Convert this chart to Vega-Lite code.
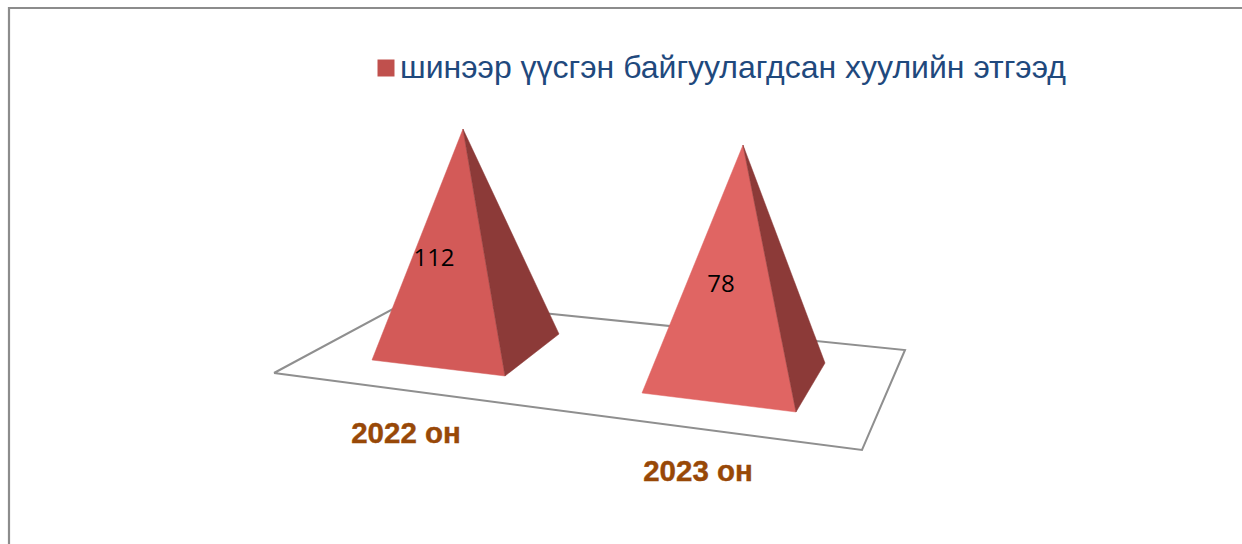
{"$schema":"https://vega.github.io/schema/vega-lite/v6.json","width":1242,"height":544,"padding":0,"autosize":{"type":"none"},"background":"white","config":{"view":{"stroke":null}},"datasets":{"shapes":[
{"shape":"frame","i":0,"x":1242,"y":8},{"shape":"frame","i":1,"x":9,"y":8},{"shape":"frame","i":2,"x":9,"y":544},
{"shape":"floor","i":0,"x":274,"y":373},{"shape":"floor","i":1,"x":410.5,"y":299.6},{"shape":"floor","i":2,"x":905,"y":350},{"shape":"floor","i":3,"x":862,"y":450},{"shape":"floor","i":4,"x":274,"y":373},
{"shape":"front2022","i":0,"x":372,"y":360},{"shape":"front2022","i":1,"x":505,"y":376},{"shape":"front2022","i":2,"x":463,"y":129},{"shape":"front2022","i":3,"x":372,"y":360},
{"shape":"side2022","i":0,"x":505,"y":376},{"shape":"side2022","i":1,"x":559,"y":334},{"shape":"side2022","i":2,"x":463,"y":129},{"shape":"side2022","i":3,"x":505,"y":376},
{"shape":"front2023","i":0,"x":642,"y":393},{"shape":"front2023","i":1,"x":796,"y":412},{"shape":"front2023","i":2,"x":743,"y":145},{"shape":"front2023","i":3,"x":642,"y":393},
{"shape":"side2023","i":0,"x":796,"y":412},{"shape":"side2023","i":1,"x":825,"y":363},{"shape":"side2023","i":2,"x":743,"y":145},{"shape":"side2023","i":3,"x":796,"y":412}
],"labels":[
{"year":"2022 он","value":112,"series":"шинээр үүсгэн байгуулагдсан хуулийн этгээд","vx":434,"vy":259,"yx":406,"yy":434},
{"year":"2023 он","value":78,"series":"шинээр үүсгэн байгуулагдсан хуулийн этгээд","vx":721,"vy":285,"yx":698,"yy":472}
]},
"encoding":{"x":{"type":"quantitative","scale":{"domain":[0,1242]},"axis":null},"y":{"type":"quantitative","scale":{"domain":[544,0]},"axis":null}},
"layer":[
{"data":{"name":"shapes"},"transform":[{"filter":"datum.shape=='frame'"}],"mark":{"type":"line","stroke":"#8c8c8c","strokeWidth":2.2,"clip":false},"encoding":{"x":{"field":"x","type":"quantitative","scale":{"domain":[0,1242]},"axis":null},"y":{"field":"y","type":"quantitative","scale":{"domain":[544,0]},"axis":null},"order":{"field":"i"}}},
{"data":{"name":"shapes"},"transform":[{"filter":"datum.shape=='floor'"}],"mark":{"type":"line","stroke":"#8f8f8f","strokeWidth":2,"fill":"white"},"encoding":{"x":{"field":"x","type":"quantitative"},"y":{"field":"y","type":"quantitative"},"order":{"field":"i"}}},
{"data":{"name":"shapes"},"transform":[{"filter":"datum.shape!='floor'&&datum.shape!='frame'"}],"mark":{"type":"line","strokeWidth":0.5},"encoding":{"x":{"field":"x","type":"quantitative"},"y":{"field":"y","type":"quantitative"},"order":{"field":"i"},"detail":{"field":"shape"},
"fill":{"field":"shape","type":"nominal","legend":null,"scale":{"domain":["front2022","side2022","front2023","side2023"],"range":["#d35a58","#8c3a38","#e06563","#8c3a38"]}},
"stroke":{"field":"shape","type":"nominal","legend":null,"scale":{"domain":["front2022","side2022","front2023","side2023"],"range":["#d35a58","#8c3a38","#e06563","#8c3a38"]}}}},
{"data":{"name":"labels"},"mark":{"type":"point","shape":"square","filled":true,"opacity":0},"encoding":{"x":{"field":"vx","type":"quantitative"},"y":{"field":"vy","type":"quantitative"},"color":{"field":"series","type":"nominal","scale":{"range":["#c0504d"]},"legend":{"title":null,"orient":"none","legendX":370,"legendY":52,"symbolType":"square","symbolSize":289,"symbolOpacity":1,"symbolStrokeWidth":0,"labelFont":"Liberation Sans","labelFontSize":32,"labelColor":"#1f497d","labelLimit":900,"labelOffset":-2,"symbolFillColor":"#c0504d"}}}},
{"data":{"name":"labels"},"mark":{"type":"text","font":"Open Sans","fontSize":24,"color":"#000000","align":"center","baseline":"middle"},"encoding":{"x":{"field":"vx","type":"quantitative"},"y":{"field":"vy","type":"quantitative"},"text":{"field":"value","type":"quantitative"}}},
{"data":{"name":"labels"},"mark":{"type":"text","font":"Liberation Sans","fontSize":29.5,"fontWeight":"bold","color":"#984807","stroke":"#984807","strokeWidth":0.4,"align":"center","baseline":"middle"},"encoding":{"x":{"field":"yx","type":"quantitative"},"y":{"field":"yy","type":"quantitative"},"text":{"field":"year","type":"nominal"}}}
]}
